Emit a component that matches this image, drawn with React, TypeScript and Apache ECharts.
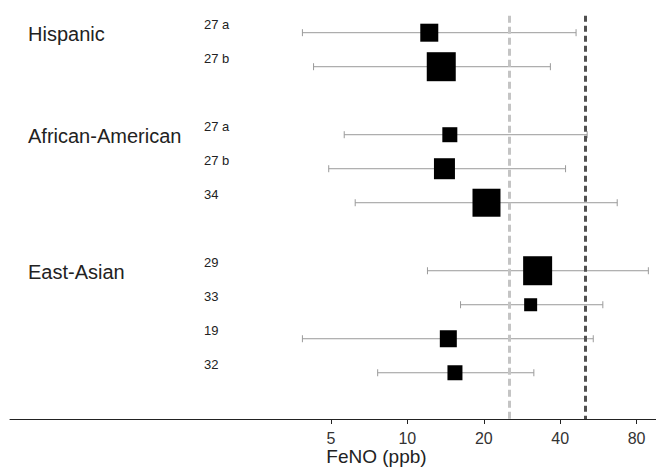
import React, { useEffect, useRef } from "react";
import * as echarts from "echarts";

const groups = ["Hispanic", "African-American", "East-Asian"];
const studyGroup = [0, 0, 1, 1, 1, 2, 2, 2, 2];
const studyLabels = ["27 a", "27 b", "27 a", "27 b", "34", "29", "33", "19", "32"];
const estimates = [12.2, 13.6, 14.7, 14.0, 20.5, 32.6, 30.6, 14.5, 15.4];
const lower = [3.86, 4.27, 5.64, 4.9, 6.23, 12.0, 16.2, 3.86, 7.64];
const upper = [46.2, 36.6, 51.1, 42.0, 67.1, 89.0, 58.9, 54.0, 31.5];
const weights = [18, 29, 15, 21, 28, 29, 13, 17, 15];
const tickValues = [5, 10, 20, 40, 80];
const referenceLines = [25, 50];
const axisRange = [0.272, 95.4];
const axisTitle = "FeNO (ppb)";

const FONT = "'Liberation Sans', Arial, sans-serif";
const L = (v: number) => Math.log10(v);

export default function App() {
  const ref = useRef<HTMLDivElement>(null);
  useEffect(() => {
    if (!ref.current) return;
    const chart = echarts.init(ref.current, undefined, { renderer: "svg" });

    // row layout: one blank row between groups
    const rows: number[] = [];
    const groupRow: number[] = [];
    let r = 0;
    studyGroup.forEach((g, i) => {
      if (i > 0 && g !== studyGroup[i - 1]) r += 1;
      if (groupRow[g] === undefined) groupRow[g] = r;
      rows.push(r);
      r += 1;
    });

    const studyData = estimates.map((e, i) => [
      rows[i],
      L(e),
      L(lower[i]),
      L(upper[i]),
      weights[i],
      studyLabels[i],
    ]);
    const groupData = groups.map((g, i) => [groupRow[i], L(axisRange[0]), g]);

    const option: any = {
      animation: false,
      grid: { left: 10, right: 0, top: 15.7, bottom: 53, containLabel: false },
      xAxis: {
        type: "value",
        position: "bottom",
        min: L(axisRange[0]),
        max: L(axisRange[1]),
        axisLine: { show: true, onZero: false, lineStyle: { color: "#222", width: 1 } },
        axisTick: {
          show: true,
          length: 5,
          customValues: tickValues.map(L),
          lineStyle: { color: "#222" },
        },
        axisLabel: {
          customValues: tickValues.map(L),
          formatter: (v: number) => String(Math.round(Math.pow(10, v))),
          color: "#333",
          fontSize: 16,
          fontFamily: FONT,
          margin: 11,
        },
        splitLine: { show: false },
      },
      yAxis: {
        type: "value",
        inverse: true,
        min: -0.5,
        max: 11.36,
        show: false,
      },
      series: [
        {
          type: "custom",
          data: studyData,
          encode: { x: [1, 2, 3], y: 0 },
          clip: false,
          renderItem: (params: any, api: any) => {
            const y = api.value(0);
            const pE = api.coord([api.value(1), y]);
            const pL = api.coord([api.value(2), y]);
            const pH = api.coord([api.value(3), y]);
            const w = api.value(4);
            const label = studyLabels[params.dataIndex];
            const ws = { stroke: "#9a9a9a", lineWidth: 1 };
            return {
              type: "group",
              children: [
                { type: "line", shape: { x1: pL[0], y1: pL[1], x2: pH[0], y2: pH[1] }, style: ws },
                { type: "line", shape: { x1: pL[0], y1: pL[1] - 3.5, x2: pL[0], y2: pL[1] + 3.5 }, style: ws },
                { type: "line", shape: { x1: pH[0], y1: pH[1] - 3.5, x2: pH[0], y2: pH[1] + 3.5 }, style: ws },
                {
                  type: "rect",
                  shape: { x: pE[0] - w / 2, y: pE[1] - w / 2, width: w, height: w },
                  style: { fill: "#000" },
                },
                {
                  type: "text",
                  style: {
                    text: label,
                    x: 204,
                    y: pE[1] - 8.5,
                    align: "left",
                    verticalAlign: "middle",
                    font: `13px ${FONT}`,
                    fill: "#222",
                  },
                },
              ],
            };
          },
          markLine: {
            silent: true,
            symbol: "none",
            label: { show: false },
            data: [
              { xAxis: L(referenceLines[0]), lineStyle: { color: "#c4c4c4", width: 3, type: [7, 4] } },
              { xAxis: L(referenceLines[1]), lineStyle: { color: "#505050", width: 3, type: [6, 4] } },
            ],
          },
        },
        {
          type: "custom",
          data: groupData,
          encode: { x: 1, y: 0 },
          clip: false,
          renderItem: (params: any, api: any) => {
            const p = api.coord([api.value(1), api.value(0)]);
            return {
              type: "text",
              style: {
                text: groups[params.dataIndex],
                x: 28,
                y: p[1] + 1,
                align: "left",
                verticalAlign: "middle",
                font: `20px ${FONT}`,
                fill: "#222",
              },
            };
          },
        },
      ],
      graphic: [
        {
          type: "text",
          x: 376.5,
          y: 456.5,
          style: {
            text: axisTitle,
            align: "center",
            verticalAlign: "middle",
            font: `19px ${FONT}`,
            fill: "#222",
          },
        },
      ],
    };
    chart.setOption(option);
    return () => chart.dispose();
  }, []);
  return (
    <div
      ref={ref}
      style={{ position: "fixed", left: 0, top: 0, width: 656, height: 472, background: "#fff" }}
    />
  );
}
